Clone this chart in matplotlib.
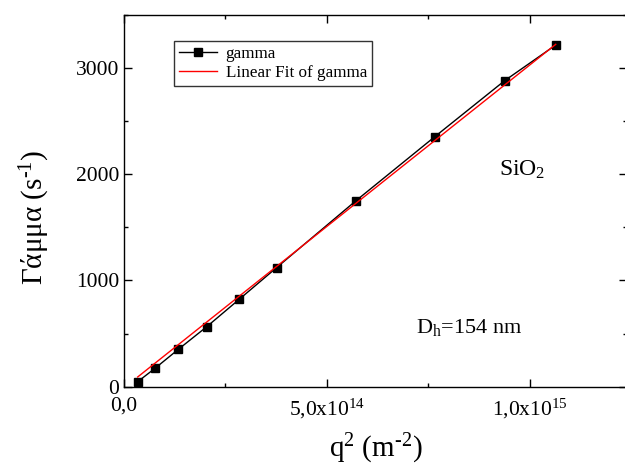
import numpy as np
import matplotlib
matplotlib.use("Agg")
import matplotlib.pyplot as plt
from matplotlib.ticker import FuncFormatter, MultipleLocator

plt.rcParams['font.family'] = ['Liberation Serif', 'DejaVu Serif']
plt.rcParams['mathtext.fontset'] = 'custom'
plt.rcParams['mathtext.rm'] = 'Liberation Serif'
plt.rcParams['mathtext.it'] = 'Liberation Serif'

# q^2 (m^-2) and gamma (s^-1)
q2 = [3.37e13, 7.64e13, 1.34e14, 2.04e14, 2.84e14, 3.76e14,
      5.71e14, 7.66e14, 9.38e14, 1.064e15]
gamma = [47, 173, 352, 565, 823, 1121, 1749, 2354, 2881, 3217]

# linear fit of gamma
fit_slope = 3.04e-12
fit_intercept = -11

q2 = np.array(q2)
gamma = np.array(gamma)
fit_x = np.array([q2[0], q2[-1]])
fit_y = fit_slope * fit_x + fit_intercept

fig = plt.figure(figsize=(6.25, 4.68), dpi=100)
ax = fig.add_axes([0.1984, 0.1737, 0.805, 0.7943])

ax.plot(q2, gamma, '-s', color='black', lw=1, markersize=6, label='gamma')
ax.plot(fit_x, fit_y, '-', color='red', lw=1, label='Linear Fit of gamma')

ax.set_xlim(0, 1.24e15)
ax.set_ylim(0, 3500)

ax.xaxis.set_major_locator(MultipleLocator(5e14))
ax.xaxis.set_minor_locator(MultipleLocator(2.5e14))
ax.yaxis.set_major_locator(MultipleLocator(1000))
ax.yaxis.set_minor_locator(MultipleLocator(500))


def fmt_x(v, pos):
    if v <= 0:
        return '0,0' if v == 0 else ''
    e = int(np.floor(np.log10(v)))
    m = v / 10 ** e
    return ('%.1f' % m).replace('.', ',') + 'x10$^{%d}$' % e


ax.xaxis.set_major_formatter(FuncFormatter(fmt_x))
ax.tick_params(which='both', direction='in', top=True, right=True,
               labelsize=15.5, width=1)
ax.tick_params(which='major', length=6)
ax.tick_params(which='minor', length=3)
ax.tick_params(axis='x', pad=7)
for s in ax.spines.values():
    s.set_linewidth(1)

ax.set_xlabel('q$^2$ (m$^{\u2010 2}$)', fontsize=21, labelpad=8)
ax.set_ylabel('Γάμμα (s$^{\u20101}$)', fontsize=21)
ax.yaxis.set_label_coords(-0.143, 0.455)

ax.text(0.745, 0.583, 'SiO$_2$', transform=ax.transAxes, fontsize=17,
        ha='left', va='center')
ax.text(0.58, 0.16, 'D$_h$=154 nm', transform=ax.transAxes, fontsize=16,
        ha='left', va='center')

leg = ax.legend(loc='upper left', bbox_to_anchor=(0.1, 0.93), fontsize=12.3,
                frameon=True, fancybox=False, borderaxespad=0,
                handlelength=2.2, borderpad=0.3, labelspacing=0.15,
                handletextpad=0.5)
leg.get_frame().set_edgecolor('black')
leg.get_frame().set_linewidth(1)

fig.savefig('out.png', dpi=100)
